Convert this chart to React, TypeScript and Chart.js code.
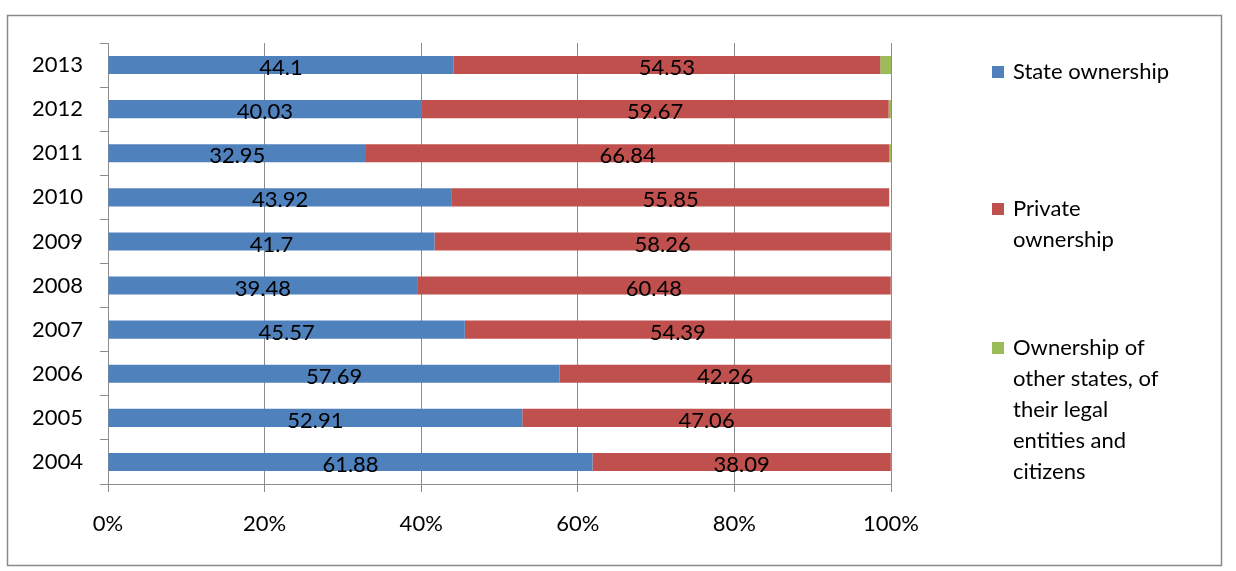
import React, { useEffect, useRef } from "react";
import { Chart, registerables } from "chart.js";

Chart.register(...registerables);

const years = ["2013", "2012", "2011", "2010", "2009", "2008", "2007", "2006", "2005", "2004"];
const stateOwnership = [44.1, 40.03, 32.95, 43.92, 41.7, 39.48, 45.57, 57.69, 52.91, 61.88];
const privateOwnership = [54.53, 59.67, 66.84, 55.85, 58.26, 60.48, 54.39, 42.26, 47.06, 38.09];
const otherOwnership = [1.37, 0.3, 0.21, 0.0, 0.04, 0.04, 0.04, 0.05, 0.03, 0.03];
const xTicks = [0, 20, 40, 60, 80, 100];
const seriesNames = ["State ownership", "Private ownership", "Ownership of other states, of their legal entities and citizens"];
const legendLines = [
  ["State ownership"],
  ["Private", "ownership"],
  ["Ownership of", "other states, of", "their legal", "entities and", "citizens"],
];

const COLORS = ["#4F81BD", "#C0504D", "#9BBB59"];
const FONT = "Lato, 'Open Sans', sans-serif";
const FS = 22;
const GRID = "#8C8C8C";

export default function App() {
  const ref = useRef<HTMLCanvasElement | null>(null);

  useEffect(() => {
    document.body.style.margin = "0";
    const canvas = ref.current;
    if (!canvas) return;

    const framePlugin = {
      id: "frame",
      beforeDraw(chart: any) {
        const ctx = chart.ctx;
        ctx.save();
        ctx.fillStyle = "#ffffff";
        ctx.fillRect(0, 0, chart.width, chart.height);
        ctx.strokeStyle = "#8a8a8a";
        ctx.lineWidth = 1.5;
        ctx.strokeRect(7.5, 15.5, 1214, 550);
        ctx.restore();
      },
    };

    const labelPlugin = {
      id: "segLabels",
      afterDatasetsDraw(chart: any) {
        const ctx = chart.ctx;
        ctx.save();
        ctx.font = `${FS}px ${FONT}`;
        ctx.fillStyle = "#000";
        ctx.textAlign = "center";
        ctx.textBaseline = "middle";
        [0, 1].forEach((di) => {
          const meta = chart.getDatasetMeta(di);
          const data = chart.data.datasets[di].data as number[];
          meta.data.forEach((el: any, i: number) => {
            const cx = (el.x + el.base) / 2;
            ctx.fillText(String(data[i]), cx, el.y + 3);
          });
        });
        ctx.restore();
      },
    };

    const legendPlugin = {
      id: "customLegend",
      afterDraw(chart: any) {
        const ctx = chart.ctx;
        ctx.save();
        ctx.font = `${FS}px ${FONT}`;
        ctx.textAlign = "left";
        ctx.textBaseline = "middle";
        const starts = [72, 209, 348];
        const lineH = 31;
        legendLines.forEach((lines, k) => {
          const y0 = starts[k];
          ctx.fillStyle = COLORS[k];
          ctx.fillRect(992, y0 - 6, 12, 12);
          ctx.fillStyle = "#000";
          lines.forEach((ln, j) => ctx.fillText(ln, 1013, y0 + j * lineH));
        });
        ctx.restore();
      },
    };

    const chart = new Chart(canvas, {
      type: "bar",
      data: {
        labels: years,
        datasets: [
          { label: seriesNames[0], data: stateOwnership, backgroundColor: COLORS[0] },
          { label: seriesNames[1], data: privateOwnership, backgroundColor: COLORS[1] },
          { label: seriesNames[2], data: otherOwnership, backgroundColor: COLORS[2] },
        ],
      },
      options: {
        indexAxis: "y",
        responsive: false,
        animation: false,
        layout: { padding: { left: 0, right: 345, top: 43, bottom: 0 } },
        datasets: { bar: { barPercentage: 0.41, categoryPercentage: 1 } },
        plugins: { legend: { display: false }, tooltip: { enabled: false } },
        scales: {
          x: {
            stacked: true,
            min: 0,
            max: 100,
            afterBuildTicks(scale: any) {
              scale.ticks = xTicks.map((v) => ({ value: v }));
            },
            afterFit(scale: any) {
              scale.height = 87;
            },
            ticks: {
              callback: (v: any) => `${v}%`,
              font: { family: FONT, size: FS },
              color: "#000",
              padding: 19,
              maxRotation: 0,
            },
            grid: { color: GRID, tickLength: 8, lineWidth: 1 },
            border: { color: GRID },
          },
          y: {
            stacked: true,
            afterFit(scale: any) {
              scale.width = 108;
            },
            ticks: {
              font: { family: FONT, size: FS },
              color: "#000",
              padding: 17,
            },
            grid: { color: GRID, drawOnChartArea: false, tickLength: 8, offset: true },
            border: { color: GRID },
          },
        },
      } as any,
      plugins: [framePlugin, labelPlugin, legendPlugin],
    });

    return () => chart.destroy();
  }, []);

  return <canvas ref={ref} width={1236} height={571} style={{ display: "block" }} />;
}
